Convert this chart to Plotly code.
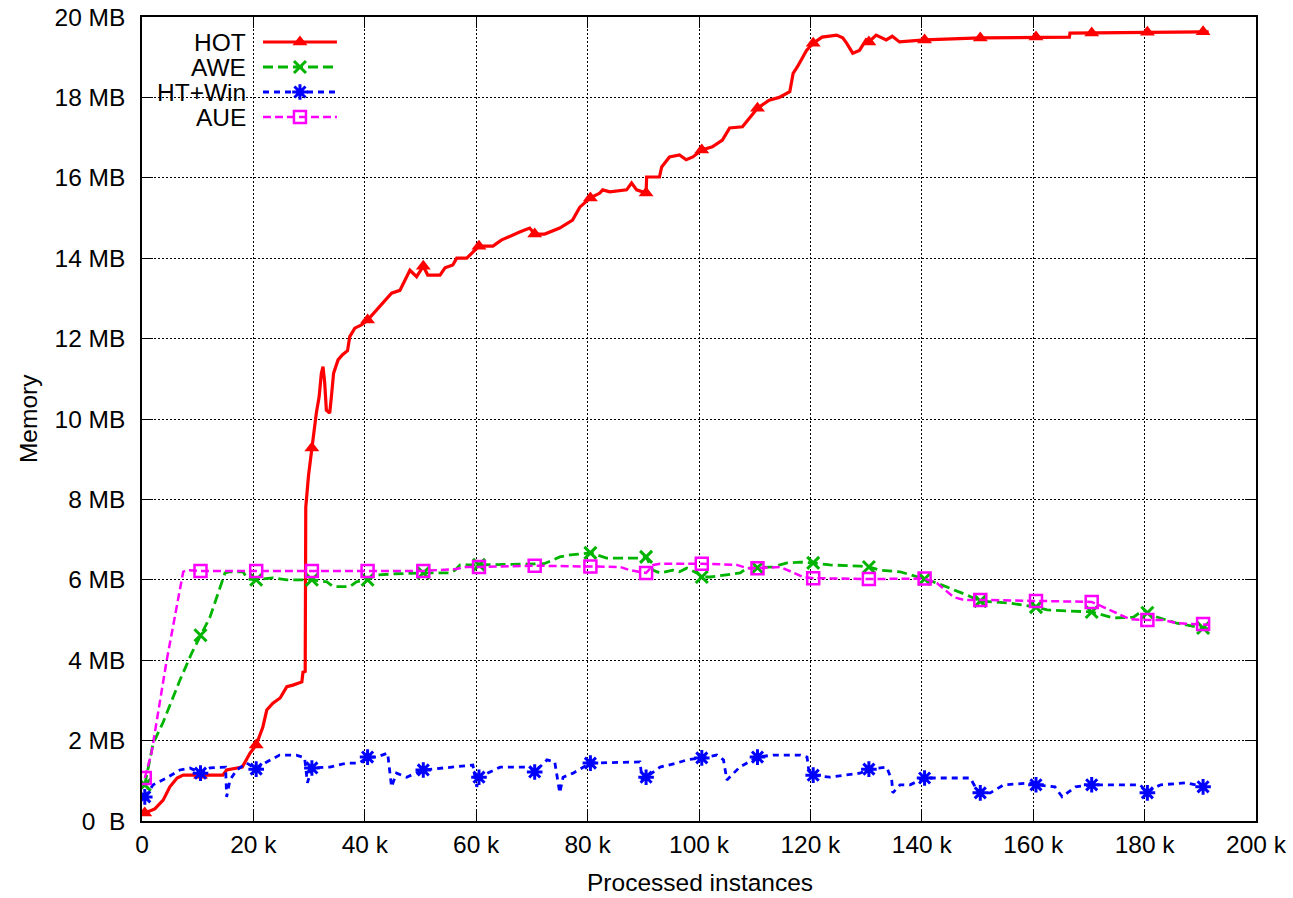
import plotly.graph_objects as go

# ---------------- data (x in thousands of instances, y in MB) ----------------
HOT_X = [0.5, 2.3, 3.8, 5.0, 6.3, 7.4, 10.5, 14.5, 15.2, 18.0, 19.4, 20.5, 21.7, 22.4, 23.5, 24.8,
         26.0, 27.1, 28.7, 28.9, 29.3, 29.4, 29.9, 30.5, 31.0, 31.3, 31.8, 32.2, 32.5, 32.8, 33.1,
         33.7, 34.0, 34.4, 35.2, 36.0, 36.9, 37.3, 38.2, 39.4, 40.5, 42.1, 43.3, 44.8, 46.3, 47.2,
         48.1, 49.3, 50.5, 51.3, 53.5, 54.4, 55.8, 56.5, 58.3, 59.4, 60.5, 63.0, 64.5, 67.8, 69.6,
         70.5, 72.3, 75.0, 77.3, 78.6, 80.5, 82.2, 82.7, 84.0, 87.0, 87.9, 88.8, 90.5, 90.6, 92.9,
         93.3, 94.7, 96.5, 97.7, 98.9, 100.5, 102.4, 104.2, 105.5, 107.8, 109.1, 110.5, 112.6,
         114.4, 116.3, 116.9, 117.7, 119.3, 120.5, 122.1, 124.7, 125.8, 126.5, 127.6, 128.8, 130.0,
         130.5, 131.8, 133.6, 134.7, 136.0, 140.5, 150.5, 160.5, 166.5, 166.6, 170.5, 180.5,
         190.5, 191.5]
HOT_Y = [0.2, 0.3, 0.52, 0.85, 1.07, 1.14, 1.14, 1.14, 1.27, 1.34, 1.69, 1.89, 2.34, 2.76, 2.93, 3.06,
         3.34, 3.38, 3.46, 3.7, 3.72, 7.8, 8.6, 9.28, 9.72, 10.15, 10.55, 11.14, 11.3, 10.9, 10.22,
         10.15, 10.55, 11.14, 11.47, 11.6, 11.7, 12.05, 12.26, 12.34, 12.46, 12.71, 12.88, 13.13,
         13.2, 13.46, 13.7, 13.54, 13.8, 13.58, 13.58, 13.76, 13.83, 14.0, 14.0, 14.15, 14.3, 14.3,
         14.45, 14.65, 14.75, 14.6, 14.6, 14.75, 14.95, 15.27, 15.5, 15.62, 15.7, 15.65, 15.7,
         15.87, 15.7, 15.62, 16.02, 16.02, 16.27, 16.52, 16.57, 16.45, 16.52, 16.69, 16.77, 16.94,
         17.24, 17.27, 17.5, 17.73, 17.93, 18.0, 18.14, 18.6, 18.77, 19.17, 19.35, 19.5, 19.55,
         19.48, 19.35, 19.1, 19.17, 19.43, 19.38, 19.55, 19.43, 19.52, 19.38, 19.43, 19.48, 19.5,
         19.5, 19.6, 19.6, 19.62, 19.63, 19.63]

AWE_X = [0.5, 2.0, 3.8, 6.8, 8.9, 10.5, 12.2, 14.9, 15.8, 18.1, 19.0, 20.5, 23.5, 26.0, 30.5, 33.2,
         34.3, 37.3, 38.5, 40.5, 42.1, 45.7, 50.5, 55.3, 56.2, 57.1, 60.5, 72.2, 75.0, 76.9, 80.5,
         83.4, 89.4, 90.5, 91.7, 93.0, 95.3, 96.5, 97.8, 99.6, 100.5, 102.0, 107.4, 108.6, 110.5,
         113.3, 115.8, 118.2, 120.5, 123.5, 128.9, 130.5, 132.5, 136.1, 140.5, 142.7, 148.1, 150.5,
         155.9, 160.5, 162.5, 168.5, 170.5, 174.4, 178.0, 179.8, 180.5, 181.6, 185.8, 190.5, 191.5]
AWE_Y = [0.9, 1.93, 2.46, 3.5, 4.17, 4.62, 5.07, 6.17, 6.2, 6.2, 6.02, 6.0, 6.05, 6.0, 6.0, 5.95,
         5.83, 5.83, 5.95, 6.0, 6.12, 6.15, 6.17, 6.17, 6.24, 6.37, 6.37, 6.4, 6.57, 6.62, 6.67,
         6.54, 6.54, 6.57, 6.24, 6.17, 6.24, 6.2, 6.29, 6.17, 6.07, 6.07, 6.17, 6.29, 6.3,
         6.32, 6.42, 6.44, 6.42, 6.37, 6.34, 6.32, 6.24, 6.2, 6.02, 5.92, 5.62, 5.47,
         5.42, 5.32, 5.25, 5.2, 5.2, 5.05, 5.07, 5.25, 5.18, 5.1, 4.92, 4.8, 4.78]

HTW_X = [0.5, 2.0, 4.4, 6.8, 8.6, 10.5, 12.2, 14.0, 15.0, 15.2, 15.8, 17.0, 18.8, 20.5, 22.4, 24.7,
         27.7, 29.2, 29.7, 30.5, 33.7, 36.7, 39.0, 40.5, 42.1, 44.1, 44.8, 45.7, 47.5, 50.5, 54.7,
         59.4, 60.1, 60.5, 64.3, 69.7, 70.5, 72.7, 74.1, 75.0, 75.6, 77.4, 80.5, 89.4, 89.8, 90.5,
         93.0, 96.0, 97.8, 100.5, 103.2, 104.4, 105.0, 107.3, 110.5, 113.3, 118.2, 119.4, 119.7,
         120.5, 123.5, 128.9, 130.5, 133.7, 134.6, 134.8, 136.1, 137.9, 140.5, 148.7, 149.9, 150.5,
         152.3, 154.7, 160.0, 160.5, 163.9, 165.2, 167.6, 170.5, 179.2, 180.5, 181.6, 182.9, 187.6,
         190.5, 191.5]
HTW_Y = [0.6, 0.9, 1.07, 1.27, 1.32, 1.19, 1.32, 1.34, 1.34, 0.6, 1.02, 1.27, 1.44, 1.29, 1.47, 1.64,
         1.64, 1.57, 0.95, 1.32, 1.34, 1.44, 1.44, 1.59, 1.59, 1.69, 0.85, 1.19, 1.09, 1.27, 1.32,
         1.39, 0.85, 1.09, 1.34, 1.34, 1.22, 1.52, 1.47, 0.7, 1.09, 1.19, 1.44, 1.47, 1.02, 1.09,
         1.34, 1.44, 1.52, 1.57, 1.64, 1.52, 1.02, 1.34, 1.59, 1.64, 1.64, 1.59, 1.27,
         1.14, 1.09, 1.19, 1.29, 1.34, 1.02, 0.7, 0.9, 0.9, 1.07, 1.07, 0.77, 0.7,
         0.7, 0.9, 0.95, 0.9, 0.85, 0.6, 0.85, 0.9, 0.9, 0.7, 0.82, 0.9, 0.95,
         0.85, 0.87]

AUE_X = [0.5, 1.7, 4.4, 7.4, 8.0, 10.5, 20.5, 30.5, 40.5, 50.5, 56.4, 58.2, 60.5, 70.5, 80.5, 85.8,
         87.6, 89.4, 90.5, 91.8, 93.0, 100.5, 106.8, 108.6, 110.5, 114.6, 116.9, 118.7, 120.5,
         130.5, 140.5, 142.7, 145.7, 147.5, 150.5, 160.5, 170.5, 172.6, 175.1, 177.4, 180.5, 183.3,
         185.8, 190.5, 191.5]
AUE_Y = [1.07, 1.69, 3.97, 6.2, 6.24, 6.22, 6.22, 6.22, 6.22, 6.22, 6.27, 6.32, 6.32, 6.35, 6.33, 6.32,
         6.24, 6.2, 6.17, 6.37, 6.4, 6.4, 6.37, 6.29, 6.29, 6.32, 6.17, 6.07, 6.04,
         6.02, 6.03, 5.92, 5.57, 5.5, 5.5, 5.47, 5.45, 5.32, 5.17, 5.02, 5.0, 5.0,
         4.92, 4.9, 4.88]

# sample points that carry a point symbol (every 10th sample)
MARKER_X = [0.5, 10.5, 20.5, 30.5, 40.5, 50.5, 60.5, 70.5, 80.5, 90.5, 100.5, 110.5, 120.5,
            130.5, 140.5, 150.5, 160.5, 170.5, 180.5, 190.5]

SERIES_NAMES = ["HOT", "AWE", "HT+Win", "AUE"]

X_TICKS = [0, 20, 40, 60, 80, 100, 120, 140, 160, 180, 200]
X_TICK_TEXT = ["0", "20 k", "40 k", "60 k", "80 k", "100 k", "120 k", "140 k", "160 k", "180 k", "200 k"]
Y_TICKS = [0, 2, 4, 6, 8, 10, 12, 14, 16, 18, 20]
Y_TICK_TEXT = ["0\u00a0 B", "2 MB", "4 MB", "6 MB", "8 MB", "10 MB", "12 MB", "14 MB", "16 MB",
               "18 MB", "20 MB"]

# ---------------- styles ----------------
FONT = "Liberation Sans, Arial, sans-serif"
FS = 24.5
STYLES = {
    "HOT":    dict(color="#ff0000", width=3.2, dash="solid",      symbol="triangle-up",  msize=13, mlw=0),
    "AWE":    dict(color="#00b400", width=2.8, dash="10px,5px",   symbol="x-thin-open",  msize=12, mlw=3),
    "HT+Win": dict(color="#0000ff", width=2.8, dash="6px,5px",    symbol="asterisk-open", msize=13, mlw=3),
    "AUE":    dict(color="#ff00ff", width=2.5, dash="8px,4px",    symbol="square-open",  msize=12, mlw=2.5),
}
DATA = {"HOT": (HOT_X, HOT_Y), "AWE": (AWE_X, AWE_Y), "HT+Win": (HTW_X, HTW_Y), "AUE": (AUE_X, AUE_Y)}

fig = go.Figure()
mset = set(MARKER_X)
for name in SERIES_NAMES:
    xs, ys = DATA[name]
    st = STYLES[name]
    fig.add_trace(go.Scatter(x=xs, y=ys, mode="lines", showlegend=False, hoverinfo="skip",
                             line=dict(color=st["color"], width=st["width"], dash=st["dash"])))
    mx = [x for x in xs if x in mset]
    my = [y for x, y in zip(xs, ys) if x in mset]
    fig.add_trace(go.Scatter(x=mx, y=my, mode="markers", showlegend=False,
                             marker=dict(symbol=st["symbol"], size=st["msize"], color=st["color"],
                                         line=dict(color=st["color"], width=st["mlw"]))))

# ---------------- custom gnuplot-style key (text left of sample) ----------------
KEY_ROWS = [25, 50, 75, 100]   # px below top of plot area
for name, row in zip(SERIES_NAMES, KEY_ROWS):
    st = STYLES[name]
    fig.add_trace(go.Scatter(x=[0, 1], y=[row, row], mode="lines", xaxis="x2", yaxis="y2",
                             showlegend=False, hoverinfo="skip",
                             line=dict(color=st["color"], width=st["width"], dash=st["dash"])))
    fig.add_trace(go.Scatter(x=[0.5], y=[row], mode="markers", xaxis="x2", yaxis="y2",
                             showlegend=False, hoverinfo="skip",
                             marker=dict(symbol=st["symbol"], size=st["msize"], color=st["color"],
                                         line=dict(color=st["color"], width=st["mlw"]))))
    fig.add_annotation(text=name, xref="paper", yref="y2", x=0.0952, y=row, xanchor="right",
                       yanchor="middle", showarrow=False, font=dict(family=FONT, size=FS, color="black"))

axis_common = dict(showline=True, linecolor="black", linewidth=1.5, mirror="ticks", ticks="inside",
                   ticklen=11, tickwidth=1.2, tickcolor="black", showgrid=True, gridcolor="black",
                   gridwidth=1, griddash="2px,2px", zeroline=False,
                   tickfont=dict(family=FONT, size=FS, color="black"))

fig.update_layout(
    width=1293, height=898,
    margin=dict(l=142, r=37, t=17, b=77, autoexpand=False),
    paper_bgcolor="white", plot_bgcolor="rgba(0,0,0,0)",
    xaxis=dict(range=[0, 200], tickmode="array", tickvals=X_TICKS, ticktext=X_TICK_TEXT,
               ticklabelstandoff=1, **axis_common),
    yaxis=dict(range=[0, 20], tickmode="array", tickvals=Y_TICKS, ticktext=Y_TICK_TEXT,
               ticklabelstandoff=10, **axis_common),
    xaxis2=dict(domain=[0.1086, 0.175], range=[0, 1], visible=False, anchor="y2"),
    yaxis2=dict(domain=[0, 1], range=[804, 0], visible=False, anchor="x2"),
    showlegend=False,
    font=dict(family=FONT, size=FS, color="black"),
)
fig.add_annotation(text="Memory", xref="paper", yref="paper", x=-0.1023, y=0.5, textangle=-90,
                   showarrow=False, xanchor="center", yanchor="middle",
                   font=dict(family=FONT, size=FS, color="black"))
fig.add_annotation(text="Processed instances", xref="paper", yref="paper", x=0.501, y=-0.0759,
                   showarrow=False, xanchor="center", yanchor="middle",
                   font=dict(family=FONT, size=FS, color="black"))

fig.write_html("out.html")
